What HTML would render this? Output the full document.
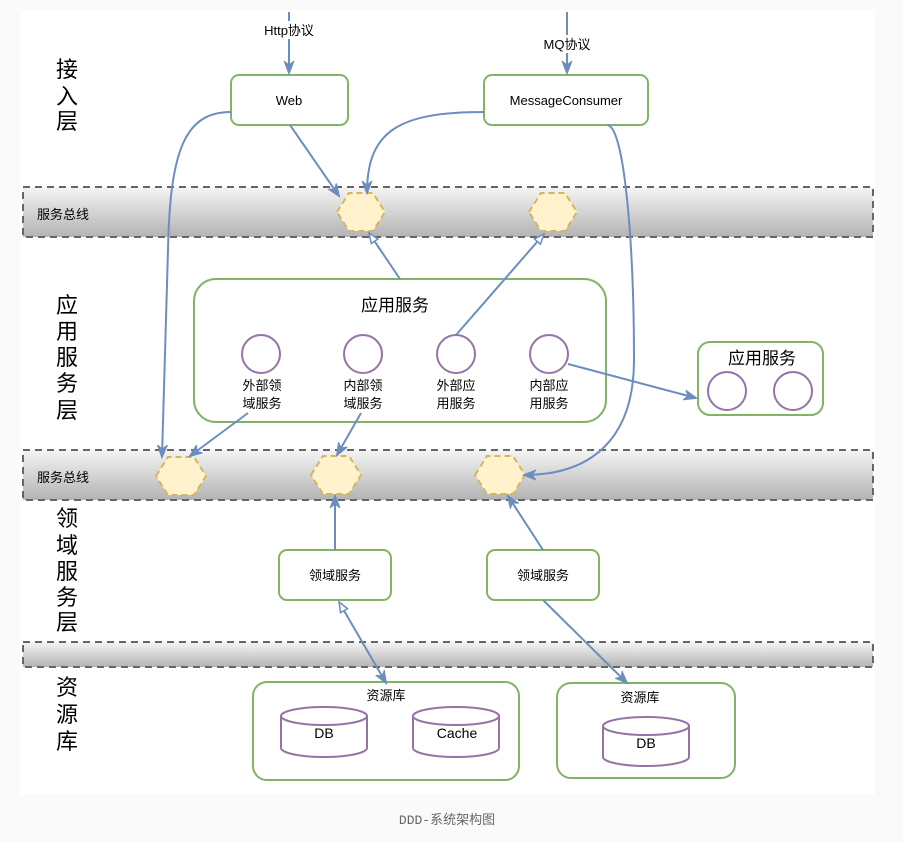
<!DOCTYPE html>
<html><head><meta charset="utf-8"><style>
html,body{margin:0;padding:0;background:#fafafa;}
svg{display:block;font-family:"Liberation Sans","Noto Sans CJK SC",sans-serif;}
</style></head><body>
<svg width="903" height="842" viewBox="0 0 903 842" xmlns="http://www.w3.org/2000/svg">
<defs>
<linearGradient id="g" x1="0" y1="0" x2="0" y2="1">
<stop offset="0" stop-color="#f5f5f5"/><stop offset="1" stop-color="#b3b3b3"/>
</linearGradient>
<marker id="a" markerWidth="14" markerHeight="14" refX="12" refY="7" orient="auto" markerUnits="userSpaceOnUse"><path d="M0,2 L13,7 L0,12 L4,7 Z" fill="#6c8ebf" stroke="#6c8ebf"/></marker>
<marker id="o" markerWidth="14" markerHeight="14" refX="11" refY="7" orient="auto" markerUnits="userSpaceOnUse"><path d="M1,3 L11,7 L1,11 Z" fill="#fff" stroke="#6c8ebf" stroke-width="1.5"/></marker>
<marker id="os" markerWidth="14" markerHeight="14" refX="2" refY="7" orient="auto" markerUnits="userSpaceOnUse"><path d="M12,3 L2,7 L12,11 Z" fill="#fff" stroke="#6c8ebf" stroke-width="1.5"/></marker>
</defs>
<rect x="20" y="10" width="855" height="785" fill="#fff"/>
<g stroke="#666" stroke-width="2" stroke-dasharray="7,5" fill="url(#g)">
<rect x="23" y="187" width="850" height="50"/>
<rect x="23" y="450" width="850" height="50"/>
<rect x="23" y="642" width="850" height="25"/>
</g>
<g font-size="13" fill="#000">
<text x="37" y="219">服务总线</text>
<text x="37" y="482">服务总线</text>
</g>
<g font-size="22" text-anchor="middle" fill="#000">
<text x="67" y="77">接</text><text x="67" y="104">入</text><text x="67" y="129">层</text>
<text x="67" y="313">应</text><text x="67" y="339">用</text><text x="67" y="365">服</text><text x="67" y="391">务</text><text x="67" y="418">层</text>
<text x="67" y="526">领</text><text x="67" y="553">域</text><text x="67" y="579">服</text><text x="67" y="605">务</text><text x="67" y="630">层</text>
<text x="67" y="695">资</text><text x="67" y="722">源</text><text x="67" y="749">库</text>
</g>
<g fill="#fff2cc" stroke="#d6b656" stroke-width="2" stroke-dasharray="6,4">
<polygon points="337,212 349,193 373,193 385,212 373,231 349,231"/>
<polygon points="529,212 541,193 565,193 577,212 565,231 541,231"/>
<polygon points="156,476 168,457 194,457 206,476 194,495 168,495"/>
<polygon points="311,475 323,456 349,456 361,475 349,494 323,494"/>
<polygon points="475,475 487,456 513,456 525,475 513,494 487,494"/>
</g>
<g fill="#fff" stroke="#82b366" stroke-width="2">
<rect x="231" y="75" width="117" height="50" rx="8"/>
<rect x="484" y="75" width="164" height="50" rx="8"/>
<rect x="194" y="279" width="412" height="143" rx="22"/>
<rect x="698" y="342" width="125" height="73" rx="12"/>
<rect x="279" y="550" width="112" height="50" rx="8"/>
<rect x="487" y="550" width="112" height="50" rx="8"/>
<rect x="253" y="682" width="266" height="98" rx="14"/>
<rect x="557" y="683" width="178" height="95" rx="14"/>
</g>
<g font-size="13" text-anchor="middle" fill="#000">
<text x="289" y="105">Web</text>
<text x="566" y="105">MessageConsumer</text>
<text x="335" y="580">领域服务</text>
<text x="543" y="580">领域服务</text>
<text x="386" y="700">资源库</text>
<text x="640" y="702">资源库</text>
</g>
<g font-size="17" text-anchor="middle" fill="#000">
<text x="395" y="311">应用服务</text>
<text x="762" y="364">应用服务</text>
</g>
<g fill="#fff" stroke="#9673a6" stroke-width="2">
<circle cx="261" cy="354" r="19"/><circle cx="363" cy="354" r="19"/>
<circle cx="456" cy="354" r="19"/><circle cx="549" cy="354" r="19"/>
<circle cx="727" cy="391" r="19"/><circle cx="793" cy="391" r="19"/>
</g>
<g font-size="13" text-anchor="middle" fill="#000">
<text x="262" y="390">外部领</text><text x="262" y="408">域服务</text>
<text x="363" y="390">内部领</text><text x="363" y="408">域服务</text>
<text x="456" y="390">外部应</text><text x="456" y="408">用服务</text>
<text x="549" y="390">内部应</text><text x="549" y="408">用服务</text>
</g>
<g fill="#fff" stroke="#9673a6" stroke-width="2">
<path d="M281,716 L281,748 A43,9 0 0 0 367,748 L367,716 A43,9 0 0 0 281,716 A43,9 0 0 0 367,716"/>
<path d="M413,716 L413,748 A43,9 0 0 0 499,748 L499,716 A43,9 0 0 0 413,716 A43,9 0 0 0 499,716"/>
<path d="M603,726 L603,757 A43,9 0 0 0 689,757 L689,726 A43,9 0 0 0 603,726 A43,9 0 0 0 689,726"/>
</g>
<g font-size="14" text-anchor="middle" fill="#000">
<text x="324" y="738">DB</text>
<text x="457" y="738">Cache</text>
<text x="646" y="748">DB</text>
</g>
<g fill="none" stroke="#6c8ebf" stroke-width="2">
<line x1="289" y1="12" x2="289" y2="73" marker-end="url(#a)"/>
<line x1="567" y1="12" x2="567" y2="73" marker-end="url(#a)"/>
<line x1="290" y1="125" x2="339" y2="196" marker-end="url(#a)"/>
<path d="M231,112 C185,112 170,150 168,250 L162,457" marker-end="url(#a)"/>
<path d="M484,112 C400,112 367,130 367,193" marker-end="url(#a)"/>
<path d="M607,125 C625,125 634,250 634,360 C634,440 590,475 524,475" marker-end="url(#a)"/>
<line x1="400" y1="279" x2="369" y2="233" marker-end="url(#o)"/>
<line x1="456" y1="335" x2="544" y2="234" marker-end="url(#o)"/>
<line x1="568" y1="364" x2="696" y2="398" marker-end="url(#a)"/>
<line x1="248" y1="413" x2="190" y2="456" marker-end="url(#a)"/>
<line x1="361" y1="413" x2="337" y2="455" marker-end="url(#a)"/>
<line x1="335" y1="550" x2="335" y2="496" marker-end="url(#a)"/>
<line x1="543" y1="550" x2="508" y2="496" marker-end="url(#a)"/>
<line x1="339" y1="602" x2="386" y2="683" marker-start="url(#os)" marker-end="url(#a)"/>
<line x1="543" y1="600" x2="627" y2="683" marker-end="url(#a)"/>
</g>
<rect x="259" y="21" width="60" height="18" fill="#fff"/>
<rect x="539" y="35" width="58" height="18" fill="#fff"/>
<g font-size="13" text-anchor="middle" fill="#000">
<text x="289" y="35">Http协议</text>
<text x="567" y="49">MQ协议</text>
</g>
<text x="447" y="824" font-size="13" text-anchor="middle" fill="#666" font-family="Liberation Mono,Noto Sans CJK SC,monospace">DDD-系统架构图</text>
</svg>
</body></html>
